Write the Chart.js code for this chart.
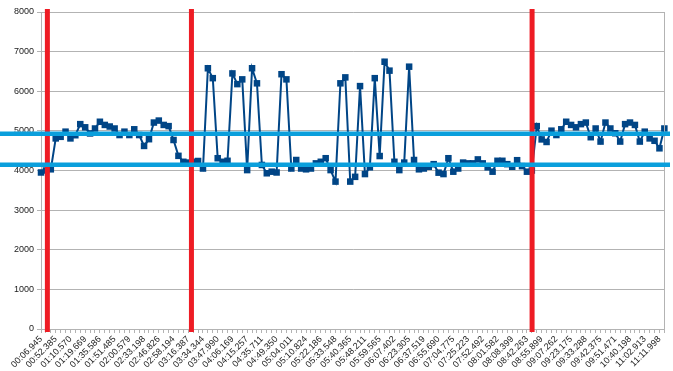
<!DOCTYPE html>
<html><head><meta charset="utf-8">
<script src="https://cdn.jsdelivr.net/npm/chart.js@4/dist/chart.umd.min.js"></script>
<style>html,body{margin:0;padding:0;background:#fff;overflow:hidden}</style>
</head><body>
<canvas id="c" width="673" height="371"></canvas>
<script>
// Tick labels shown every third sample
const tickLabels = ["00:06.945","00:52.385","01:10.570","01:19.669","01:35.586","01:51.485","02:00.579","02:33.198","02:46.826","02:58.194","03:16.387","03:34.344","03:47.990","04:06.169","04:15.257","04:35.711","04:49.350","05:04.011","05:10.824","05:22.186","05:33.548","05:40.365","05:48.211","05:59.565","06:07.402","06:23.305","06:37.519","06:55.690","07:04.775","07:25.223","07:52.492","08:01.582","08:08.399","08:42.263","08:55.899","09:07.262","09:23.175","09:33.288","09:42.375","09:51.471","10:40.198","11:02.913","11:11.998"];
const labelEvery = 3;
// Series values (one per sample)
const values = [3950,4000,4030,4810,4850,4980,4810,4890,5170,5090,4935,5060,5230,5150,5110,5060,4895,4980,4895,5040,4895,4620,4790,5210,5260,5150,5120,4770,4370,4220,4200,4220,4240,4050,6580,6330,4310,4220,4245,6450,6180,6300,4010,6580,6200,4140,3930,3970,3950,6430,6300,4050,4265,4050,4030,4050,4180,4220,4310,4010,3720,6200,6350,3720,3840,6130,3910,4080,6330,4365,6745,6520,4220,4010,4200,6620,4265,4030,4050,4095,4160,3945,3910,4310,3970,4050,4200,4180,4180,4280,4180,4080,3970,4245,4245,4160,4095,4260,4110,3970,4000,5120,4785,4720,5005,4895,5040,5230,5150,5090,5170,5210,4840,5060,4730,5210,5060,4940,4730,5170,5210,5150,4730,4980,4810,4750,4560,5060];
// Horizontal limit lines (values)
const limitValues = [4930, 4145];
// Vertical event markers (position in sample index units)
const eventPositions = [1.3, 30.65, 100.05];
// Y axis range
const yMin = 0, yMax = 8000, yStep = 1000;

const categories = values.map((v, i) => (i % labelEvery === 0 && tickLabels[i / labelEvery] !== undefined) ? tickLabels[i / labelEvery] : '');

const overlay = {
  id: 'overlay',
  afterDatasetsDraw(chart) {
    const {ctx, chartArea} = chart;
    const x = chart.scales.x, y = chart.scales.y;
    ctx.save();
    ctx.strokeStyle = '#b3b3b3'; ctx.lineWidth = 1;
    const rx = Math.round(chartArea.right) + 0.5;
    ctx.beginPath(); ctx.moveTo(rx, chartArea.top); ctx.lineTo(rx, chartArea.bottom); ctx.stroke();
    ctx.strokeStyle = '#ee1c24'; ctx.lineWidth = 5;
    const top = y.getPixelForValue(yMax) - 3, bot = y.getPixelForValue(yMin) + 3;
    eventPositions.forEach(p => {
      const px = x.getPixelForValue(p);
      ctx.beginPath(); ctx.moveTo(px, top); ctx.lineTo(px, bot); ctx.stroke();
    });
    ctx.strokeStyle = '#0a9fdc'; ctx.lineWidth = 4.5;
    limitValues.forEach(v => {
      const py = y.getPixelForValue(v);
      ctx.beginPath(); ctx.moveTo(0, py); ctx.lineTo(chart.width - 3, py); ctx.stroke();
    });
    ctx.restore();
  }
};

new Chart(document.getElementById('c'), {
  type: 'line',
  data: {
    labels: categories,
    datasets: [{
      data: values,
      borderColor: '#004586',
      backgroundColor: '#004586',
      borderWidth: 2,
      pointStyle: 'rect',
      pointRadius: 4.6,
      pointBorderWidth: 0,
      pointBackgroundColor: '#004586',
      tension: 0,
      clip: false
    }]
  },
  options: {
    responsive: false,
    animation: false,
    devicePixelRatio: 1,
    layout: {padding: {top: 12, right: 8, left: 0, bottom: 0}},
    plugins: {legend: {display: false}, tooltip: {enabled: false}, title: {display: false}},
    scales: {
      x: {
        type: 'category',
        offset: false,
        afterFit(s) { s.height = 42; },
        grid: {drawOnChartArea: false, drawTicks: true, tickLength: 4, color: '#b3b3b3'},
        border: {color: '#b3b3b3'},
        ticks: {autoSkip: false, minRotation: 45, maxRotation: 45, padding: 1,
          color: '#1a1a1a', font: {family: 'Liberation Sans', size: 9}}
      },
      y: {
        min: yMin, max: yMax,
        afterFit(s) { s.width = 41; },
        grid: {color: '#b3b3b3', tickLength: 4},
        border: {color: '#b3b3b3'},
        ticks: {stepSize: yStep, padding: 3, color: '#1a1a1a', font: {family: 'Liberation Sans', size: 9},
          callback: v => String(v)}
      }
    }
  },
  plugins: [overlay]
});
</script>
</body></html>
